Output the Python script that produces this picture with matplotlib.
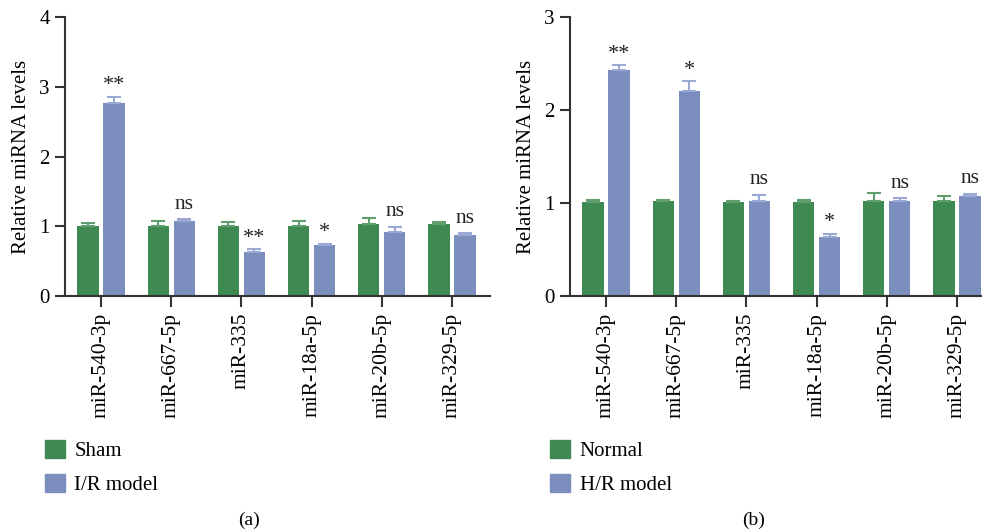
import matplotlib
matplotlib.use("Agg")
import matplotlib.pyplot as plt
from matplotlib.patches import Patch
import numpy as np

plt.rcParams['font.family'] = ['Liberation Serif', 'DejaVu Serif']

categories = ["miR-540-3p", "miR-667-5p", "miR-335", "miR-18a-5p", "miR-20b-5p", "miR-329-5p"]

# Panel (a)
a_ctrl = [1.01, 1.01, 1.01, 1.01, 1.03, 1.03]
a_ctrl_err = [0.03, 0.07, 0.05, 0.06, 0.09, 0.03]
a_model = [2.76, 1.07, 0.63, 0.73, 0.92, 0.87]
a_model_err = [0.10, 0.03, 0.04, 0.02, 0.07, 0.03]
a_sig = ["**", "ns", "**", "*", "ns", "ns"]
a_labels = ["Sham", "I/R model"]

# Panel (b)
b_ctrl = [1.01, 1.02, 1.01, 1.01, 1.02, 1.02]
b_ctrl_err = [0.02, 0.01, 0.01, 0.02, 0.09, 0.06]
b_model = [2.43, 2.20, 1.02, 0.63, 1.02, 1.08]
b_model_err = [0.05, 0.11, 0.07, 0.04, 0.03, 0.02]
b_sig = ["**", "*", "ns", "*", "ns", "ns"]
b_labels = ["Normal", "H/R model"]

GREEN = "#3f8a52"
BLUE = "#7b8ebe"
GREEN_E = "#5f9e6e"
BLUE_E = "#9aa9d6"
AX = "#333333"

W, H = 982, 531
fig = plt.figure(figsize=(W / 100, H / 100), dpi=100)


def px_axes(x0, x1, y0, y1):
    return fig.add_axes([x0 / W, 1 - y1 / H, (x1 - x0) / W, (y1 - y0) / H])


def panel(ax, ctrl, cerr, model, merr, sig, ymax, xlim, yaxis_x, labels, leg_x, cap, cap_x):
    x = np.arange(len(categories))
    bw = 0.30
    off = 0.185
    ax.bar(x - off, ctrl, bw, color=GREEN, zorder=2)
    ax.bar(x + off, model, bw, color=BLUE, zorder=2)
    ax.errorbar(x - off, ctrl, yerr=[np.zeros(len(x)), cerr], fmt='none',
                ecolor=GREEN_E, elinewidth=1.5, capsize=5, capthick=1.5, zorder=3)
    ax.errorbar(x + off, model, yerr=[np.zeros(len(x)), merr], fmt='none',
                ecolor=BLUE_E, elinewidth=1.5, capsize=5, capthick=1.5, zorder=3)
    for xi, m, e, s in zip(x, model, merr, sig):
        ax.annotate(s, (xi + off, m + e), xytext=(0, 1 if s != "ns" else 4),
                    textcoords='offset points', ha='center', va='bottom',
                    fontsize=15.5 if s == "ns" else 16, color='#222222')
    ax.set_xlim(*xlim)
    ax.set_ylim(0, ymax)
    ax.set_yticks(range(ymax + 1))
    ax.set_xticks(x)
    ax.set_xticklabels(categories, rotation=90, fontsize=15.5)
    ax.tick_params(axis='y', labelsize=15, length=7, width=1.5, color=AX, pad=4)
    ax.tick_params(axis='x', length=8, width=1.5, color=AX, pad=4)
    for s in ['top', 'right']:
        ax.spines[s].set_visible(False)
    ax.spines['left'].set_position(('data', yaxis_x))
    ax.spines['left'].set_linewidth(1.5)
    ax.spines['bottom'].set_linewidth(1.5)
    ax.spines['left'].set_color(AX)
    ax.spines['bottom'].set_color(AX)
    ax.set_ylabel("Relative miRNA levels", fontsize=15, labelpad=6)
    handles = [Patch(color=GREEN), Patch(color=BLUE)]
    fig.legend(handles, labels, loc='upper left', bbox_to_anchor=(leg_x / W, 1 - 432 / H),
               frameon=False, fontsize=15, handlelength=0.95, handleheight=0.95,
               handletextpad=0.45, labelspacing=0.6, borderaxespad=0)
    fig.text(cap_x / W, 1 - 520 / H, cap, ha='center', va='center', fontsize=14)


# Panel a
ax1 = px_axes(58, 490, 17, 296)
tick0, step = 101, 70.2
panel(ax1, a_ctrl, a_ctrl_err, a_model, a_model_err, a_sig, 4,
      ((58 - tick0) / step, (490 - tick0) / step), (65 - tick0) / step,
      a_labels, 37, "(a)", 249)

# Panel b
ax2 = px_axes(563, 982, 17, 296)
tick0b = 606
panel(ax2, b_ctrl, b_ctrl_err, b_model, b_model_err, b_sig, 3,
      ((563 - tick0b) / step, (982 - tick0b) / step), (570 - tick0b) / step,
      b_labels, 542, "(b)", 754)

fig.savefig("out.png", dpi=100)
